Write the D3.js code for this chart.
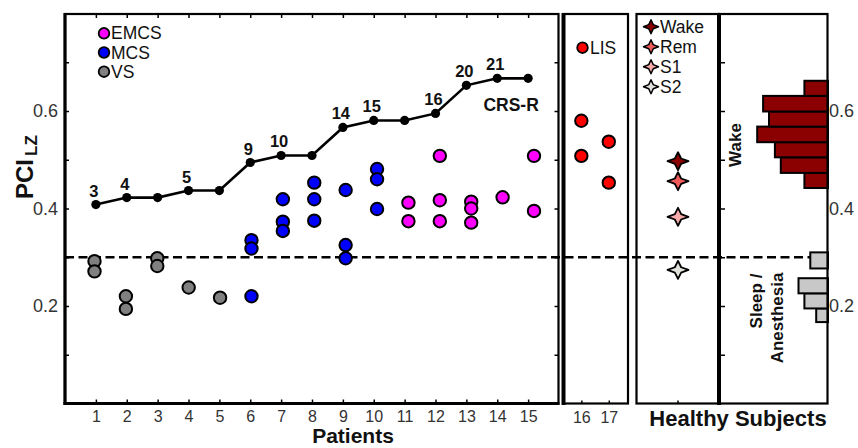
<!DOCTYPE html>
<html>
<head>
<meta charset="utf-8">
<script src="https://cdn.jsdelivr.net/npm/d3@7"></script>
<style>
  body { margin: 0; background: #fff; }
  svg { display: block; }
  text { font-family: "Liberation Sans", Arial, sans-serif; }
</style>
</head>
<body>
<svg id="chart" width="858" height="448"></svg>
<script>
// ---- data ---------------------------------------------------------------
const patients = d3.range(1, 16);

// PCI per session, grouped by diagnosis (patient id, value)
const vsPatients   = [1, 1, 2, 2, 3, 3, 4, 5];
const vsValues     = [0.292, 0.271, 0.220, 0.194, 0.298, 0.282, 0.238, 0.217];
const mcsPatients  = [6, 6, 6, 7, 7, 7, 8, 8, 8, 9, 9, 9, 10, 10, 10];
const mcsValues    = [0.335, 0.318, 0.220, 0.419, 0.373, 0.354, 0.453, 0.419, 0.375,
                      0.438, 0.325, 0.298, 0.481, 0.460, 0.399];
const emcsPatients = [11, 11, 12, 12, 12, 13, 13, 13, 14, 15, 15];
const emcsValues   = [0.412, 0.374, 0.508, 0.417, 0.374, 0.414, 0.400, 0.371, 0.423, 0.508, 0.395];
const lisPatients  = [16, 16, 17, 17];
const lisValues    = [0.580, 0.508, 0.537, 0.453];

// CRS-R total score of each patient
const crsScores = [3, 4, 4, 5, 5, 9, 10, 10, 14, 15, 15, 16, 20, 21, 21];

// healthy subjects, mean PCI per state
const healthyStates = ["Wake", "Rem", "S1", "S2"];
const healthyValues = [0.497, 0.456, 0.383, 0.274];
const healthyColors = ["#8b0000", "#f05a5a", "#f7aaaa", "#e2e2dc"];

// distributions of PCI in wakefulness and in sleep / anesthesia
const wakeBinEdges  = [0.442, 0.473, 0.505, 0.536, 0.568, 0.599, 0.631, 0.662];
const wakeCounts    = [4, 8, 9, 12, 10, 11, 4];
const sleepBinEdges = [0.167, 0.195, 0.226, 0.257, 0.277, 0.310];
const sleepCounts   = [2, 4, 5, 0, 3];

const groupNames  = ["EMCS", "MCS", "VS"];
const groupColors = ["#ff00ff", "#0000ff", "#808080"];
const yTickValues = [0.1, 0.2, 0.3, 0.4, 0.5, 0.6, 0.7];
const yTickLabels = [0.2, 0.4, 0.6];
const threshold = 0.3;

// ---- layout -------------------------------------------------------------
const svg = d3.select("#chart");
const plotTop = 14, plotBottom = 403.5;
const mainL = 65, mainR = 558.5;
const lisL = 563.5, lisR = 628;
const hsL = 636.5, hsR = 719;
const histL = 719, histR = 827.5;

const y = d3.scaleLinear().domain([0, 0.8]).range([plotBottom, plotTop - 0.5]);
const x = d3.scaleLinear().domain([0, 16]).range([mainL, mainR + 0.5]);
const xDot = d3.scaleLinear().domain([1, 15]).range([94.5, 534]);
const xLis = d3.scaleLinear().domain([15.35, 17.7]).range([lisL, lisR]);
const crsY = d3.scaleLinear().domain([3, 21]).range([y(0.408), y(0.667)]);
const hx = d3.scaleLinear().domain([0, 12]).range([828, 828 - 12 * 5.9]);
const hsX = 678;

const font = "\"Liberation Sans\", Arial, sans-serif";
const ink = "#000";
const labelInk = "#333";

// threshold line across all panels
svg.append("line")
  .attr("x1", mainL).attr("x2", histR)
  .attr("y1", y(threshold)).attr("y2", y(threshold))
  .attr("stroke", ink).attr("stroke-width", 2.5)
  .attr("stroke-dasharray", "9,4.5");

// ---- histograms ---------------------------------------------------------
function drawHist(edges, counts, fill) {
  svg.append("g").selectAll("rect")
    .data(counts.map((c, i) => ({ c, lo: edges[i], hi: edges[i + 1] })).filter(d => d.c > 0))
    .join("rect")
    .attr("x", d => hx(d.c))
    .attr("width", d => hx(0) - hx(d.c))
    .attr("y", d => y(d.hi))
    .attr("height", d => y(d.lo) - y(d.hi))
    .attr("fill", fill)
    .attr("stroke", ink).attr("stroke-width", 2);
}
drawHist(wakeBinEdges, wakeCounts, "#8b0000");
drawHist(sleepBinEdges, sleepCounts, "#c8c8c8");

// ---- panel frames -------------------------------------------------------
function frame(l, r) {
  svg.append("rect")
    .attr("x", l).attr("y", plotTop).attr("width", r - l).attr("height", plotBottom - plotTop)
    .attr("fill", "none").attr("stroke", ink).attr("stroke-width", 2.2);
}
frame(mainL, mainR);
frame(lisL, lisR);
frame(hsL, hsR);
frame(histL, histR);
function vline(xp, w) {
  svg.append("line").attr("x1", xp).attr("x2", xp).attr("y1", plotTop - 1).attr("y2", plotBottom + 1.5)
    .attr("stroke", ink).attr("stroke-width", w);
}
vline(mainL, 3.2);
vline(lisL, 4);
vline(hsR, 4);
svg.append("line").attr("x1", mainL - 1.5).attr("x2", mainR + 1).attr("y1", plotBottom).attr("y2", plotBottom)
  .attr("stroke", ink).attr("stroke-width", 3);

// ---- axes ---------------------------------------------------------------
function styleAxis(g, size, fill) {
  g.select(".domain").remove();
  g.selectAll("line").attr("stroke", ink).attr("stroke-width", 1.5);
  g.selectAll("text").attr("font-family", font).attr("font-size", size).attr("fill", fill || labelInk);
}
const fmtY = d => yTickLabels.some(v => Math.abs(v - d) < 1e-9) ? d3.format(".1f")(d) : "";

svg.append("g").attr("transform", `translate(0,${plotBottom})`)
  .call(d3.axisBottom(x).tickValues(patients).tickSize(-4).tickPadding(7.5).tickFormat(d3.format("d")))
  .call(g => styleAxis(g, 16));
svg.append("g").attr("transform", `translate(0,${plotTop})`)
  .call(d3.axisTop(x).tickValues(patients).tickSize(-4).tickFormat(""))
  .call(g => styleAxis(g, 16));
svg.append("g").attr("transform", `translate(${mainL},0)`)
  .call(d3.axisLeft(y).tickValues(yTickValues).tickSize(-4).tickPadding(7).tickFormat(fmtY))
  .call(g => styleAxis(g, 18));
svg.append("g").attr("transform", `translate(${mainR},0)`)
  .call(d3.axisRight(y).tickValues(yTickValues).tickSize(-4).tickFormat(""))
  .call(g => styleAxis(g, 18));

svg.append("g").attr("transform", `translate(0,${plotBottom})`)
  .call(d3.axisBottom(xLis).tickValues(lisPatients.filter((d, i, a) => a.indexOf(d) === i))
    .tickSize(-3).tickPadding(8.5).tickFormat(d3.format("d")))
  .call(g => styleAxis(g, 16));

svg.append("line").attr("x1", hsX).attr("x2", hsX).attr("y1", plotBottom).attr("y2", plotBottom - 3)
  .attr("stroke", ink).attr("stroke-width", 1.5);

svg.append("g").attr("transform", `translate(${histL + 2},0)`)
  .call(d3.axisLeft(y).tickValues(yTickValues).tickSize(-4).tickFormat(""))
  .call(g => styleAxis(g, 18));
svg.append("g").attr("transform", `translate(${histR},0)`)
  .call(d3.axisRight(y).tickValues(yTickLabels).tickSize(0).tickPadding(1.5).tickFormat(d3.format(".1f")))
  .call(g => styleAxis(g, 18));

// ---- CRS-R line ---------------------------------------------------------
const crsPts = patients.map((p, i) => ({ p, s: crsScores[i], first: i === 0 || crsScores[i - 1] !== crsScores[i] }));
svg.append("path")
  .datum(crsPts)
  .attr("fill", "none").attr("stroke", ink).attr("stroke-width", 2.6)
  .attr("d", d3.line().x(d => x(d.p)).y(d => crsY(d.s)));
svg.append("g").selectAll("circle").data(crsPts).join("circle")
  .attr("cx", d => x(d.p)).attr("cy", d => crsY(d.s)).attr("r", 4.6).attr("fill", ink);
svg.append("g").selectAll("text").data(crsPts.filter(d => d.first)).join("text")
  .attr("x", d => x(d.p) - 2).attr("y", d => crsY(d.s) - 8)
  .attr("text-anchor", "middle").attr("font-size", 16.5).attr("font-weight", "bold")
  .attr("fill", "#111").text(d => d.s);
svg.append("text").attr("x", x(14.45)).attr("y", crsY(16.3))
  .attr("text-anchor", "middle").attr("font-size", 17.5).attr("font-weight", "bold")
  .attr("fill", "#111").text("CRS-R");

// ---- patient dots -------------------------------------------------------
function dots(ps, vs, color, xs) {
  svg.append("g").selectAll("circle").data(ps.map((p, i) => ({ p, v: vs[i] }))).join("circle")
    .attr("cx", d => xs(d.p)).attr("cy", d => y(d.v)).attr("r", 6.2)
    .attr("fill", color).attr("stroke", ink).attr("stroke-width", 2);
}
dots(vsPatients, vsValues, groupColors[2], xDot);
dots(mcsPatients, mcsValues, groupColors[1], xDot);
dots(emcsPatients, emcsValues, groupColors[0], xDot);
dots(lisPatients, lisValues, "#ff0000", xLis);

// ---- healthy subject stars ---------------------------------------------
const starLine = d3.line().curve(d3.curveLinearClosed);
function starPath(rx, ry) {
  const k = 0.3;
  return starLine([[0, -ry], [k * rx, -k * ry], [rx, 0], [k * rx, k * ry],
                   [0, ry], [-k * rx, k * ry], [-rx, 0], [-k * rx, -k * ry]]);
}
svg.append("g").selectAll("path").data(healthyValues).join("path")
  .attr("transform", d => `translate(${hsX},${y(d)})`)
  .attr("d", starPath(10.5, 9))
  .attr("fill", (d, i) => healthyColors[i])
  .attr("stroke", ink).attr("stroke-width", 1.8).attr("stroke-linejoin", "round");

// ---- legends ------------------------------------------------------------
const lg = svg.append("g");
groupNames.forEach((n, i) => {
  const cy = 33.3 + i * 19.2;
  lg.append("circle").attr("cx", 104).attr("cy", cy).attr("r", 5.3)
    .attr("fill", groupColors[i]).attr("stroke", ink).attr("stroke-width", 1.8);
  lg.append("text").attr("x", 111).attr("y", cy + 6).attr("font-size", 17.5).attr("fill", "#111").text(n);
});
lg.append("circle").attr("cx", 582.5).attr("cy", 47.7).attr("r", 5.3)
  .attr("fill", "#ff0000").attr("stroke", ink).attr("stroke-width", 1.8);
lg.append("text").attr("x", 590).attr("y", 53.7).attr("font-size", 17.5).attr("fill", "#111").text("LIS");
healthyStates.forEach((n, i) => {
  const cy = 26.7 + i * 20;
  lg.append("path").attr("transform", `translate(651,${cy})`).attr("d", starPath(7.5, 7))
    .attr("fill", healthyColors[i]).attr("stroke", ink).attr("stroke-width", 1.5).attr("stroke-linejoin", "round");
  lg.append("text").attr("x", 660).attr("y", cy + 6).attr("font-size", 17.5).attr("fill", "#111").text(n);
});

// ---- titles -------------------------------------------------------------
const yTitle = svg.append("text")
  .attr("transform", "translate(33,199) rotate(-90)")
  .attr("font-size", 24).attr("font-weight", "bold").attr("fill", "#111");
yTitle.append("tspan").text("PCI");
yTitle.append("tspan").attr("dx", 3).attr("dy", 4).attr("font-size", 17).text("LZ");

svg.append("text").attr("x", 353).attr("y", 443).attr("text-anchor", "middle")
  .attr("font-size", 21).attr("font-weight", "bold").attr("fill", "#111").text("Patients");
svg.append("text").attr("x", 738).attr("y", 426).attr("text-anchor", "middle")
  .attr("font-size", 22).attr("font-weight", "bold").attr("fill", "#111").text("Healthy Subjects");

svg.append("text").attr("transform", "translate(741,145) rotate(-90)").attr("text-anchor", "middle")
  .attr("font-size", 17).attr("font-weight", "bold").attr("fill", "#111").text("Wake");
svg.append("text").attr("transform", "translate(762,301) rotate(-90)").attr("text-anchor", "middle")
  .attr("font-size", 17).attr("font-weight", "bold").attr("fill", "#111").text("Sleep /");
svg.append("text").attr("transform", "translate(783,318) rotate(-90)").attr("text-anchor", "middle")
  .attr("font-size", 17).attr("font-weight", "bold").attr("fill", "#111").text("Anesthesia");
</script>
</body>
</html>
